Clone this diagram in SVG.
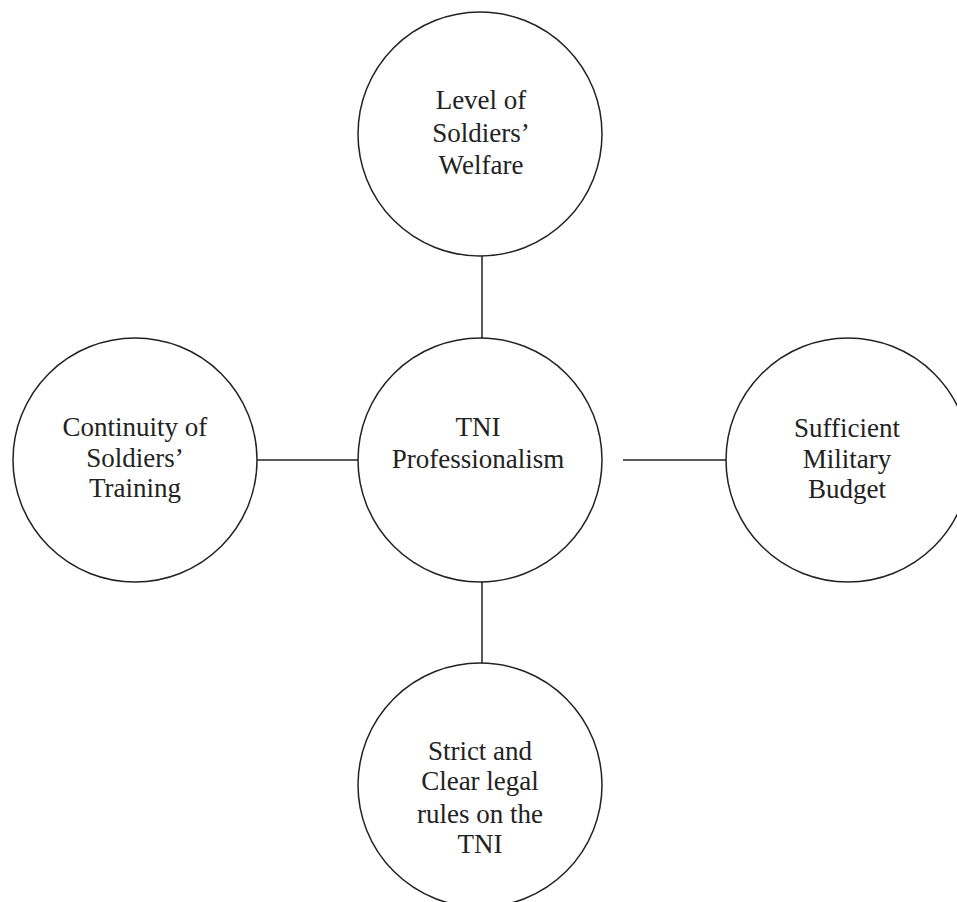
<svg xmlns="http://www.w3.org/2000/svg" width="957" height="902" viewBox="0 0 957 902">
<style>
.node circle{fill:#fff;stroke:#222;stroke-width:1.5}
.node text{font-family:"Liberation Serif","Times New Roman",serif;font-size:27px;fill:#222;text-anchor:middle}
.conn line{stroke:#222;stroke-width:1.5}
</style>
<rect width="957" height="902" fill="#fff"/>
<g class="conn">
<line x1="482" y1="256" x2="482" y2="338"/>
<line x1="257" y1="460" x2="358" y2="460"/>
<line x1="623" y1="460" x2="726" y2="460"/>
<line x1="482" y1="582" x2="482" y2="663"/>
</g>
<g id="welfare" class="node">
<circle cx="480" cy="134" r="122"/>
<text x="481" y="109">Level of</text>
<text x="481" y="142">Soldiers’</text>
<text x="481" y="174">Welfare</text>
</g>
<g id="tni" class="node">
<circle cx="480" cy="460" r="122"/>
<text x="478" y="436">TNI</text>
<text x="478" y="468">Professionalism</text>
</g>
<g id="training" class="node">
<circle cx="135" cy="460" r="122"/>
<text x="135" y="436">Continuity of</text>
<text x="135" y="467">Soldiers’</text>
<text x="135" y="497">Training</text>
</g>
<g id="budget" class="node">
<circle cx="848" cy="460" r="122"/>
<text x="847" y="437">Sufficient</text>
<text x="847" y="468">Military</text>
<text x="847" y="498">Budget</text>
</g>
<g id="legal" class="node">
<circle cx="480" cy="785" r="122"/>
<text x="480" y="760">Strict and</text>
<text x="480" y="790">Clear legal</text>
<text x="480" y="823">rules on the</text>
<text x="480" y="853">TNI</text>
</g>
</svg>
